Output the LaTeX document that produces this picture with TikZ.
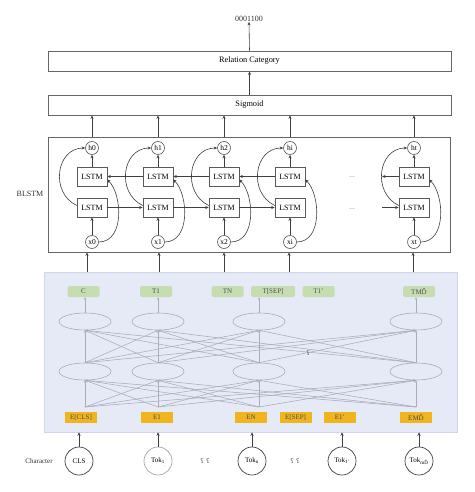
\documentclass[tikz,border=0pt]{standalone}
\usepackage{fontspec}
\setmainfont{Liberation Serif}
\newfontfamily\ipafont{DejaVu Serif}
\usetikzlibrary{arrows.meta,shapes.geometric,calc}
\definecolor{bluebg}{RGB}{229,234,246}
\definecolor{blueedge}{RGB}{208,214,232}
\definecolor{greenbox}{RGB}{198,221,178}
\definecolor{orangebox}{RGB}{240,180,30}
\definecolor{boxtext}{RGB}{80,80,80}
\definecolor{netgray}{RGB}{170,172,184}
\tikzset{
  bigbox/.style={draw=black!60, line width=0.7pt, minimum width=403pt, minimum height=20pt, inner sep=0pt, font=\fontsize{8.3}{10}\selectfont},
  lstmbox/.style={draw=black!65, line width=0.6pt, minimum width=30pt, minimum height=19pt, inner sep=0pt, font=\fontsize{8}{9}\selectfont},
  hcirc/.style={circle, draw=black!65, line width=0.6pt, minimum size=13pt, inner sep=0pt, font=\fontsize{7.5}{8}\selectfont},
  arr/.style={-{Stealth[length=3.5pt,width=3pt]}, line width=0.6pt, draw=black!75},
  netline/.style={-{Stealth[length=2.6pt,width=2.2pt]}, line width=0.55pt, draw=netgray},
  ell/.style={ellipse, draw=netgray, line width=0.6pt, minimum width=52pt, minimum height=17pt, inner sep=0pt},
  gbox/.style={fill=greenbox, rounded corners=1.5pt, minimum width=32pt, minimum height=11pt, inner sep=0pt, text=boxtext, font=\fontsize{7}{8}\selectfont},
  obox/.style={fill=orangebox, minimum width=32pt, minimum height=11pt, inner sep=0pt, text=boxtext, font=\fontsize{7}{8}\selectfont},
  tok/.style={circle, draw=black!75, line width=0.7pt, minimum size=28pt, inner sep=0pt, font=\fontsize{7}{8}\selectfont},
  lbl/.style={inner sep=0pt, font=\fontsize{7.5}{9}\selectfont, text=black!80},
}
\begin{document}
\begin{tikzpicture}[x=1pt,y=-1pt]
\useasboundingbox (0,0) rectangle (474,492);
\fill[white] (0,0) rectangle (474,492);

% top
\node[lbl, font=\fontsize{8}{9}\selectfont] (out) at (249,19) {0001100};
\node[bigbox] (rel) at (249.5,61) {Relation Category};
\node[bigbox] (sig) at (249.5,105) {Sigmoid};
\draw[arr] (rel.north) -- (out.south);
\draw[arr] (sig.north) -- (rel.south);

% BLSTM
\node[draw=black!60, line width=0.7pt, minimum width=402pt, minimum height=115pt, inner sep=0pt] (blstm) at (249,194.5) {};
\node[lbl, font=\fontsize{8}{9}\selectfont] (blabel) at (30,194) {BLSTM};

\foreach \i/\x/\s in {0/92/0,1/158/1,2/224/2,3/290/i,4/414/t}{
  \node[hcirc] (h\i) at (\x,148) {h\s};
  \node[lstmbox] (Up\i) at (\x,176.5) {LSTM};
  \node[lstmbox] (Lo\i) at (\x,207.5) {LSTM};
  \node[hcirc] (x\i) at (\x,242) {x\s};
  \draw[arr] (x\i.north) -- (Lo\i.south);
  \draw[arr] (Up\i.north) -- (h\i.south);
  \draw[arr] ([yshift=2pt]Lo\i.west) .. controls +(-27,-13) and +(-29,0) .. (h\i.west);
  \draw[arr] (x\i.east) .. controls +(26,0) and +(15,15) .. ([yshift=-3pt]Up\i.east);
  \coordinate (s\i) at (h\i |- blstm.north);
  \draw[arr] (s\i) -- (h\i |- sig.south);
}
\foreach \a/\b in {0/1,1/2,2/3}{
  \draw[arr] (Lo\a.east) -- (Lo\b.west);
  \draw[arr] (Up\b.west) -- (Up\a.east);
}
\coordinate (tin) at (382,207.5);
\coordinate (tout) at (382,176.5);
\draw[arr] (tin) -- (Lo4.west);
\draw[arr] (Up4.west) -- (tout);
\node[lbl, text=black!45, font=\fontsize{8}{9}\selectfont] (dots1) at (352,177) {...};
\node[lbl, text=black!45, font=\fontsize{8}{9}\selectfont] (dots2) at (352,209) {...};

% blue region
\node[fill=bluebg, draw=blueedge, line width=0.5pt, minimum width=413pt, minimum height=160pt, inner sep=0pt] (blue) at (250.5,352) {};
\foreach \k/\x in {1/87,2/159,3/224,4/289,5/413}{
  \coordinate (bt\k) at (\x,272);
  \draw[arr] (bt\k) -- (bt\k |- blstm.south);
}

% green boxes
\node[gbox] (gC) at (83.5,291.5) {C};
\node[gbox] (gT1) at (156,291.5) {T1};
\node[gbox] (gTN) at (227.5,291.5) {TN};
\node[gbox, minimum width=44pt] (gTS) at (273,291.5) {T[SEP]};
\node[gbox] (gT1p) at (318.5,291.5) {T1'};
\node[gbox] (gTM) at (419,291.5) {TMĎ};

% network
\foreach \k/\x in {1/85,2/158,3/259,4/416}{
  \node[ell] (U\k) at (\x,321.5) {};
  \node[ell] (L\k) at (\x,371.5) {};
  \coordinate (b\k) at (\x,407);
}
\foreach \i in {1,...,4}{
  \foreach \j in {1,...,4}{
    \draw[netline] (b\i) -- (L\j.south);
    \draw[netline] (L\i.north) -- (U\j.south);
  }
}
\draw[netline] (U1.north) -- (U1.north |- gC.south);
\draw[netline] (U2.north) -- (U2.north |- gT1.south);
\draw[netline] (U3.north) -- (U3.north |- gTS.south);
\draw[netline] (U4.north) -- (U4.north |- gTM.south);
\node[lbl, font=\ipafont\fontsize{6.5}{7}\selectfont, text=black!70] (q1) at (308,353) {ʕ};

% orange boxes
\node[obox] (eC) at (81,417.5) {E[CLS]};
\node[obox] (e1) at (157,417.5) {E1};
\node[obox] (eN) at (251,417.5) {EN};
\node[obox] (eS) at (295.5,417.5) {E[SEP]};
\node[obox] (e1p) at (340,417.5) {E1'};
\node[obox] (eM) at (416,417.5) {EMĎ};

% tokens
\node[lbl, font=\fontsize{7}{8}\selectfont] (charlbl) at (39,461) {Character};
\node[tok] (t0) at (79,461) {CLS};
\node[tok, draw=black!35] (t1) at (158,461) {Tok\textsubscript{1}};
\node[tok] (t2) at (252,461) {Tok\textsubscript{n}};
\node[tok] (t3) at (342,461) {Tok\textsubscript{1'}};
\node[tok] (t4) at (419,461) {Tok\textsubscript{mĎ}};
\foreach \k in {0,...,4}{
  \draw[arr] (t\k.north) -- (t\k.north |- blue.south);
}
\node[lbl, font=\ipafont\fontsize{6.5}{7}\selectfont, text=black!70] (q2) at (205,461) {ʕ ʕ};
\node[lbl, font=\ipafont\fontsize{6.5}{7}\selectfont, text=black!70] (q3) at (295,461) {ʕ ʕ};
\end{tikzpicture}
\end{document}
